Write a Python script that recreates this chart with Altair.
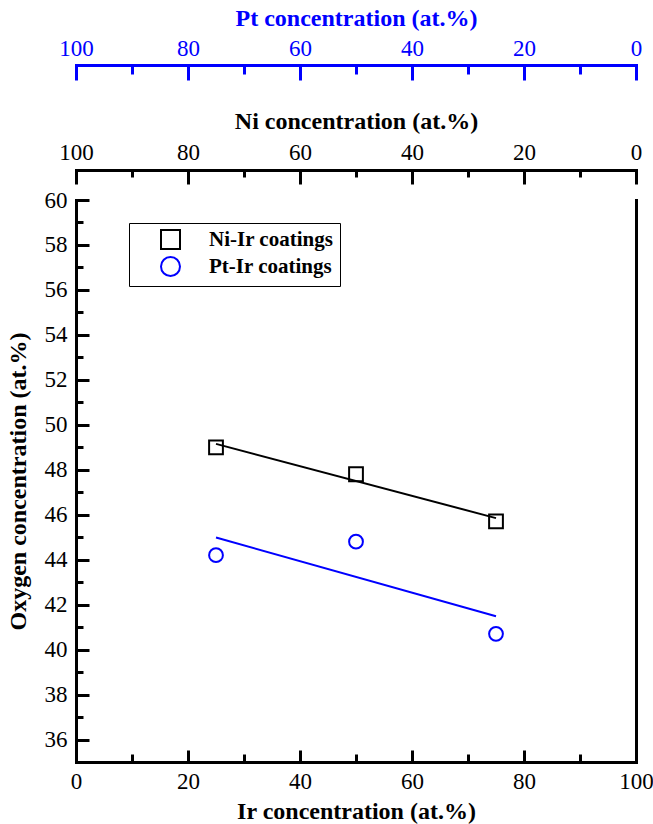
import altair as alt
import pandas as pd

# ---- data ----
ir = [25, 50, 75]
ni_ir_oxygen = [49.0, 47.8, 45.7]
pt_ir_oxygen = [44.2, 44.8, 40.7]
series_names = ["Ni-Ir coatings", "Pt-Ir coatings"]
series_colors = ["#000000", "#0000ff"]
series_shapes = ["square", "circle"]

x_major = [0, 20, 40, 60, 80, 100]
x_minor = [10, 30, 50, 70, 90]
y_major = list(range(36, 61, 2))
y_minor = list(range(37, 60, 2))

df = pd.DataFrame({
    "ir": ir + ir,
    "oxygen": ni_ir_oxygen + pt_ir_oxygen,
    "series": [series_names[0]] * len(ir) + [series_names[1]] * len(ir),
})

W, H = 560, 562
FONT = "Liberation Serif"
BLUE = "#0000ff"
xs = alt.Scale(domain=[0, 100], nice=False, zero=False)
ys = alt.Scale(domain=[35, 60], nice=False, zero=False)

base = alt.Chart(df)


def x_layer(axis):
    return base.mark_point(opacity=0).encode(
        x=alt.X("ir:Q", scale=xs, axis=axis),
        y=alt.Y("oxygen:Q", scale=ys, axis=None),
    )


def y_layer(axis):
    return base.mark_point(opacity=0).encode(
        x=alt.X("ir:Q", scale=xs, axis=None),
        y=alt.Y("oxygen:Q", scale=ys, axis=axis),
    )


def label_axis(orient, values, color, title, offset=0, label_expr=None, **kw):
    args = dict(
        orient=orient, values=values, offset=offset,
        ticks=False, tickSize=0,
        domain=True, domainWidth=3, domainColor=color, domainCap="square",
        labelFont=FONT, labelFontSize=23, labelColor=color,
        labelFlush=False, labelOverlap=False,
        title=title, titleFont=FONT, titleFontSize=24, titleFontWeight="bold",
        titleColor=color, titleBaseline="middle", grid=False,
    )
    if label_expr:
        args["labelExpr"] = label_expr
    args.update(kw)
    return alt.Axis(**args)


def tick_axis(orient, values, size, color, offset=0):
    return alt.Axis(
        orient=orient, values=values, offset=offset,
        ticks=True, tickSize=size, tickWidth=3, tickColor=color,
        domain=False, labels=False, title=None, grid=False,
    )


layers = []

# bottom Ir axis (line + labels + title) and inward ticks
layers.append(x_layer(label_axis("bottom", x_major, "black", "Ir concentration (at.%)",
                                 labelPadding=8, titleY=49)))
layers.append(x_layer(tick_axis("top", x_major[1:-1], 12, "black", offset=-H)))
layers.append(x_layer(tick_axis("top", x_minor, 8, "black", offset=-H)))

# Ni axis above the plot
NI_OFF = 30
layers.append(x_layer(label_axis("top", x_major, "black", "Ni concentration (at.%)",
                                 offset=NI_OFF, label_expr="100 - datum.value",
                                 labelPadding=6, titleY=-49)))
layers.append(x_layer(tick_axis("bottom", x_major, 14, "black", offset=-(H + NI_OFF))))
layers.append(x_layer(tick_axis("bottom", x_minor, 7, "black", offset=-(H + NI_OFF))))

# Pt axis above
PT_OFF = 135
layers.append(x_layer(label_axis("top", x_major, BLUE, "Pt concentration (at.%)",
                                 offset=PT_OFF, label_expr="100 - datum.value",
                                 labelPadding=5, titleY=-47)))
layers.append(x_layer(tick_axis("bottom", x_major, 15, BLUE, offset=-(H + PT_OFF))))
layers.append(x_layer(tick_axis("bottom", x_minor, 9, BLUE, offset=-(H + PT_OFF))))

# left Oxygen axis + inward ticks
layers.append(y_layer(label_axis("left", y_major, "black", "Oxygen concentration (at.%)",
                                 labelPadding=9, titleX=-58, titleY=H / 2)))
layers.append(y_layer(tick_axis("right", y_major, 13, "black", offset=-W)))
layers.append(y_layer(tick_axis("right", y_minor, 7, "black", offset=-W)))
# right border
layers.append(y_layer(alt.Axis(orient="right", values=y_major, ticks=False, labels=False,
                               domain=True, domainWidth=3, domainColor="black",
                               domainCap="square", title=None, grid=False)))

# regression lines
for name, col in zip(series_names, series_colors):
    layers.append(
        base.transform_filter(alt.datum.series == name)
        .transform_regression("ir", "oxygen")
        .mark_line(color=col, strokeWidth=2)
        .encode(
            x=alt.X("ir:Q", scale=xs, axis=None),
            y=alt.Y("oxygen:Q", scale=ys, axis=None),
        )
    )

legend = alt.Legend(
    title=None, orient="none", legendX=53, legendY=23,
    strokeColor="black", fillColor="white", padding=6,
    labelFont=FONT, labelFontSize=21, labelFontWeight="bold", labelColor="black",
    symbolSize=361, symbolStrokeWidth=2, symbolOffset=25, labelOffset=28,
    rowPadding=0,
)

points = base.mark_point(filled=False, strokeWidth=2, size=190, opacity=1).encode(
    x=alt.X("ir:Q", scale=xs, axis=None),
    y=alt.Y("oxygen:Q", scale=ys, axis=None),
    color=alt.Color("series:N", scale=alt.Scale(domain=series_names, range=series_colors),
                    legend=legend),
    shape=alt.Shape("series:N", scale=alt.Scale(domain=series_names, range=series_shapes),
                    legend=legend),
)
layers.append(points)

chart = (
    alt.layer(*layers)
    .resolve_axis(x="independent", y="independent")
    .properties(
        width=W, height=H,
        padding={"left": 76, "top": 200, "right": 17, "bottom": 62},
        autosize=alt.AutoSizeParams(type="none"),
        background="white",
    )
    .configure_view(stroke=None)
    .configure_axis(labelFont=FONT, titleFont=FONT)
)

chart.save("out.html", embed_options={"renderer": "svg", "actions": False})
